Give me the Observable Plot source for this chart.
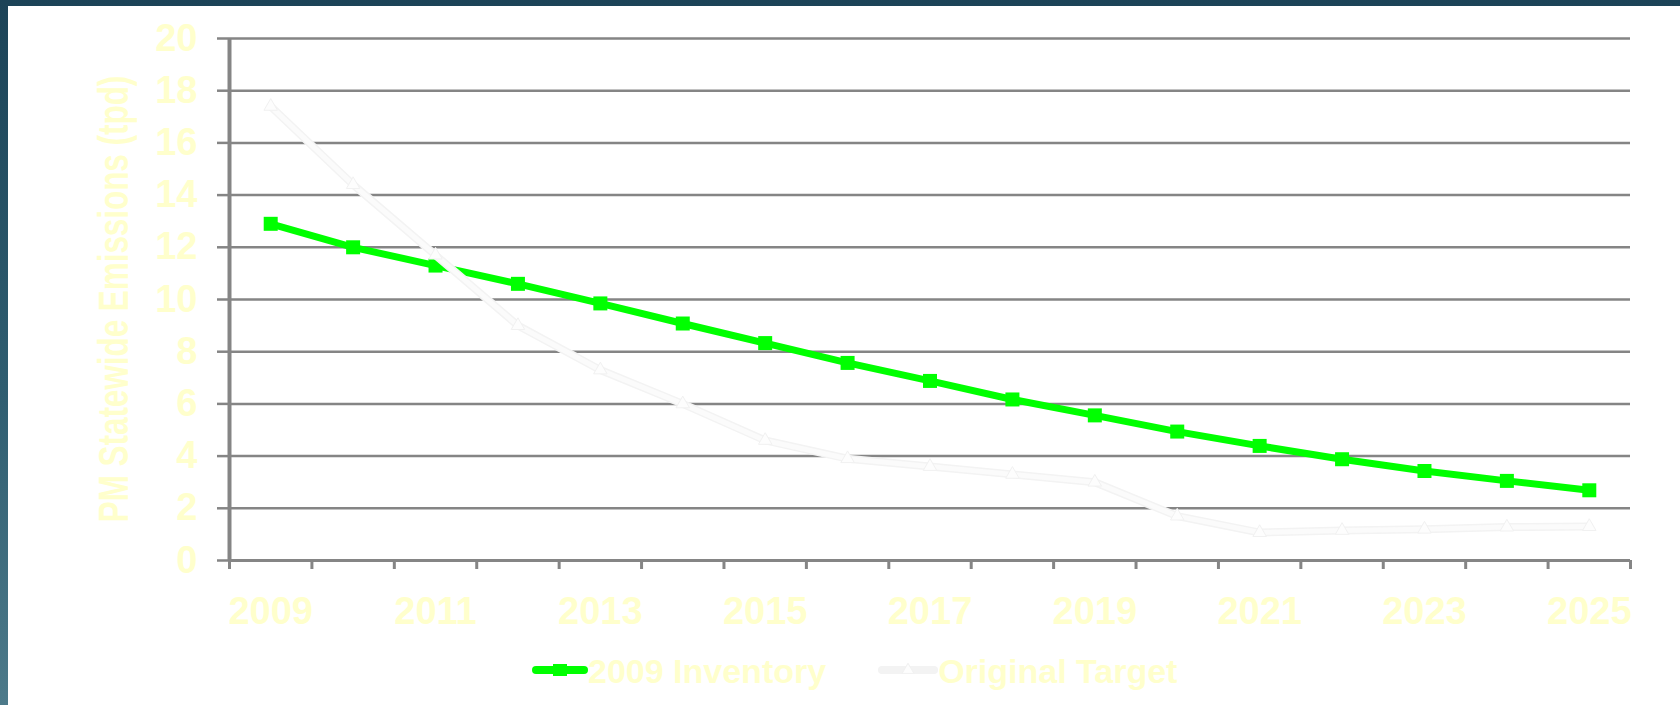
<!DOCTYPE html>
<html>
<head>
<meta charset="utf-8">
<script src="https://cdn.jsdelivr.net/npm/d3@7"></script>
<script src="https://cdn.jsdelivr.net/npm/@observablehq/plot@0.6"></script>
<style>
  html, body {
    margin: 0; padding: 0; width: 1680px; height: 705px; overflow: hidden;
    background: linear-gradient(to bottom, #1c4357 0%, #2f5d70 55%, #4d7a8a 100%);
  }
  #panel {
    position: absolute; left: 8px; top: 6px; width: 1672px; height: 699px;
    background: #ffffff;
    font-family: "Liberation Sans", Arial, sans-serif;
  }
  #chart svg { display: block; }
  #legend {
    position: absolute; left: 524px; top: 648px;
    display: flex; align-items: flex-start; gap: 0;
    font-size: 34px; font-weight: bold; line-height: 34px; color: #ffffcc;
    white-space: pre;
  }
  .item { display: flex; align-items: flex-start; }
  .item svg { display: block; }
</style>
</head>
<body>
<div id="panel">
  <div id="chart"></div>
  <div id="legend"></div>
</div>
<script>
// Projected statewide PM emissions (tons per day), 2009 to 2025
const years = [2009, 2010, 2011, 2012, 2013, 2014, 2015, 2016, 2017, 2018, 2019, 2020, 2021, 2022, 2023, 2024, 2025];
const inventory2009 = [12.9, 12.0, 11.3, 10.6, 9.85, 9.08, 8.33, 7.57, 6.88, 6.17, 5.56, 4.94, 4.39, 3.88, 3.43, 3.05, 2.69];
const originalTarget = [17.4, 14.4, 11.7, 9.0, 7.3, 6.0, 4.6, 3.9, 3.6, 3.3, 3.0, 1.7, 1.07, 1.15, 1.2, 1.28, 1.3];
const seriesNames = ["2009 Inventory", "Original Target"];
const yTicks = [0, 2, 4, 6, 8, 10, 12, 14, 16, 18, 20];
const xTickLabels = [2009, 2011, 2013, 2015, 2017, 2019, 2021, 2023, 2025];
const yTitle = "PM Statewide Emissions (tpd)";

const inventoryColor = "#00ff00";
const targetColor = "#fbfbfb";
const targetEdge = "#f3f3f3";
const gridColor = "#858585";
const textColor = "#ffffcc";

const rows = years.map((year, i) => ({year, inventory: inventory2009[i], target: originalTarget[i]}));
// category boundaries: each year occupies one slot on the axis
const bounds = years.map(y => y - 0.5).concat([years[years.length - 1] + 0.5]);

const chart = Plot.plot({
  width: 1672,
  height: 634,
  marginLeft: 221,
  marginRight: 50,
  marginTop: 32,
  marginBottom: 80,
  x: {type: "linear", domain: [bounds[0], bounds[bounds.length - 1]]},
  y: {domain: [0, 20]},
  style: {
    fontFamily: "'Liberation Sans', Arial, sans-serif",
    fontWeight: "bold",
    fontSize: "38px",
    color: textColor,
    background: "transparent",
    overflow: "visible"
  },
  marks: [
    Plot.gridY(yTicks, {stroke: gridColor, strokeOpacity: 1, strokeWidth: 2.5}),
    Plot.axisY({ticks: yTicks, tickSize: 12, tickPadding: 20, stroke: gridColor, strokeWidth: 2.5,
                label: null, fill: textColor, fontSize: 38, fontWeight: "bold"}),
    Plot.ruleX([bounds[0]], {stroke: gridColor, strokeWidth: 4}),
    Plot.ruleY([0], {stroke: gridColor, strokeWidth: 3}),
    Plot.axisX({ticks: bounds, tickSize: 9, tickFormat: () => "", stroke: gridColor, strokeWidth: 3, label: null}),
    Plot.axisX({ticks: xTickLabels, tickSize: 0, tickPadding: 37, tickFormat: d => String(d),
                label: null, fill: textColor, fontSize: 38, fontWeight: "bold"}),
    Plot.line(rows, {x: "year", y: "inventory", stroke: inventoryColor, strokeWidth: 7}),
    Plot.dot(rows, {x: "year", y: "inventory", symbol: "square", r: 7.9, fill: inventoryColor}),
    // the target series is drawn almost white, on top of everything
    Plot.line(rows, {x: "year", y: "target", stroke: targetEdge, strokeWidth: 8}),
    Plot.line(rows, {x: "year", y: "target", stroke: targetColor, strokeWidth: 5}),
    Plot.dot(rows, {x: "year", y: "target", symbol: "triangle", r: 5, fill: "#fdfdfd", stroke: "#f1f1f1", strokeWidth: 1})
  ]
});

// rotated y-axis title, drawn condensed like the original
const yScale = chart.scale("y");
const midY = (yScale.apply(0) + yScale.apply(20)) / 2;
d3.select(chart).append("text")
  .attr("transform", `translate(120,${midY}) rotate(-90) scale(1,1.38)`)
  .attr("text-anchor", "middle")
  .attr("fill", textColor)
  .attr("font-size", 31.4)
  .attr("font-weight", "bold")
  .text(yTitle);

document.getElementById("chart").appendChild(chart);

// legend below the chart
const legend = d3.select("#legend");
const items = [
  {name: seriesNames[0], color: inventoryColor, width: 56, marker: "square", gapAfter: 52},
  {name: seriesNames[1], color: targetEdge, width: 60, marker: "triangle", gapAfter: 0}
];
items.forEach(it => {
  const item = legend.append("div").attr("class", "item").style("margin-right", it.gapAfter + "px");
  const sw = item.append("svg").attr("width", it.width).attr("height", 34);
  sw.append("line").attr("x1", 4).attr("x2", it.width - 4).attr("y1", 16).attr("y2", 16)
    .attr("stroke", it.color).attr("stroke-width", 8).attr("stroke-linecap", "round");
  if (it.marker === "square") {
    sw.append("rect").attr("x", it.width / 2 - 7).attr("y", 10).attr("width", 14).attr("height", 12).attr("fill", it.color);
  } else {
    sw.append("path").attr("d", d3.symbol(d3.symbolTriangle, 60)()).attr("transform", `translate(${it.width / 2},16)`)
      .attr("fill", "#fdfdfd").attr("stroke", "#f1f1f1");
  }
  item.append("span").text(it.name);
});
</script>
</body>
</html>
